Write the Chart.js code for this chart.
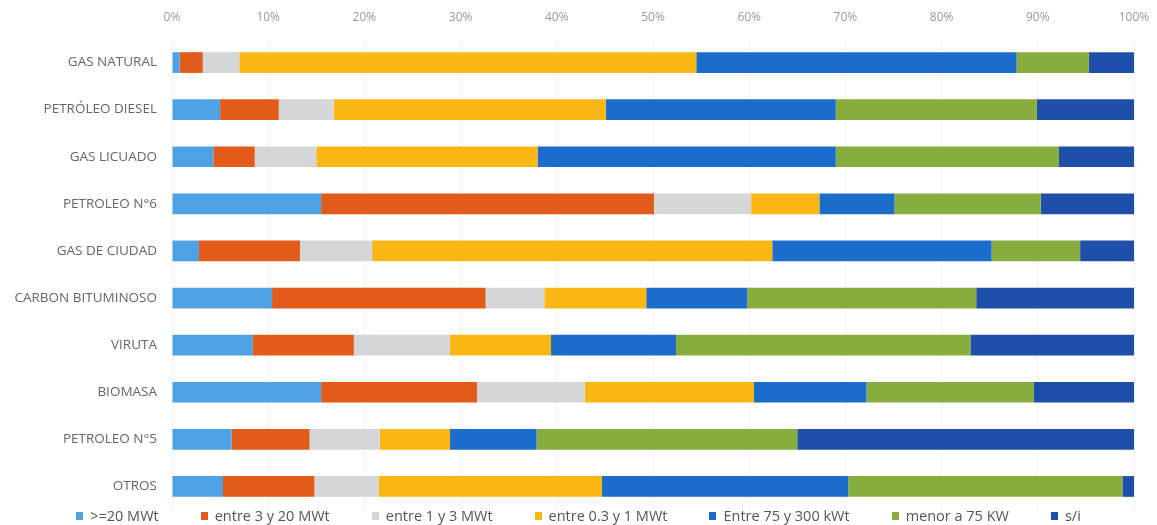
<!DOCTYPE html>
<html>
<head>
<meta charset="utf-8">
<script src="https://cdn.jsdelivr.net/npm/chart.js@4/dist/chart.umd.min.js"></script>
<style>
  html, body { margin: 0; padding: 0; background: #fff; }
  .wrap { position: relative; width: 1157px; height: 525px; }
  #chartBox { position: absolute; left: 0; top: 0; width: 1157px; height: 510px; }
  .legend {
    position: absolute; left: 0; top: 506px; width: 1157px;
    display: flex; justify-content: center; gap: 42px;
    font-family: 'Open Sans', sans-serif; font-size: 14.5px; color: #555;
  }
  .legend span { display: inline-flex; align-items: center; white-space: nowrap; }
  .legend i { display: inline-block; width: 7px; height: 8px; margin-right: 7px; }
</style>
</head>
<body>
<div class="wrap">
  <div id="chartBox"><canvas id="chart"></canvas></div>
  <div class="legend" id="legend"></div>
</div>
<script>
const categories = [
  'GAS NATURAL', 'PETRÓLEO DIESEL', 'GAS LICUADO', 'PETROLEO N°6', 'GAS DE CIUDAD',
  'CARBON BITUMINOSO', 'VIRUTA', 'BIOMASA', 'PETROLEO N°5', 'OTROS'
]
const seriesNames = [
  '>=20 MWt', 'entre 3 y 20 MWt', 'entre 1 y 3 MWt', 'entre 0.3 y 1 MWt',
  'Entre 75 y 300 kWt', 'menor a 75 KW', 's/i'
]
// percentages per category, one array per series
const over20 = [0.8, 5.0, 4.3, 15.5, 2.8, 10.4, 8.4, 15.5, 6.2, 5.3]
const from3to20 = [2.4, 6.1, 4.3, 34.6, 10.5, 22.2, 10.5, 16.2, 8.1, 9.5]
const from1to3 = [3.8, 5.7, 6.4, 10.1, 7.5, 6.1, 10.0, 11.2, 7.3, 6.7]
const from03to1 = [47.5, 28.3, 23.0, 7.1, 41.6, 10.6, 10.5, 17.6, 7.3, 23.2]
const from75to300 = [33.3, 23.9, 31.0, 7.8, 22.8, 10.5, 13.0, 11.7, 9.0, 25.6]
const under75 = [7.5, 20.9, 23.2, 15.2, 9.2, 23.8, 30.6, 17.4, 27.1, 28.5]
const sinInfo = [4.7, 10.1, 7.8, 9.7, 5.6, 16.4, 17.0, 10.4, 35.0, 1.2]
const xTicks = [0, 10, 20, 30, 40, 50, 60, 70, 80, 90, 100]

const colors = ['#4ea1e3', '#e35b1a', '#d4d6da', '#fbb714', '#1c6dcb', '#86ad3e', '#1f4fa8']
const allSeries = [over20, from3to20, from1to3, from03to1, from75to300, under75, sinInfo]

const ctx = document.getElementById('chart').getContext('2d')
const chart = new Chart(ctx, {
  type: 'bar',
  data: {
    labels: categories,
    datasets: allSeries.map((data, i) => ({
      label: seriesNames[i],
      data: data,
      backgroundColor: colors[i],
      borderWidth: 0,
      barPercentage: 0.44,
      categoryPercentage: 1
    }))
  },
  options: {
    indexAxis: 'y',
    responsive: true,
    maintainAspectRatio: false,
    animation: false,
    layout: { padding: { left: 0, right: 23, top: 0, bottom: 0 } },
    scales: {
      x: {
        position: 'top',
        stacked: true,
        min: 0,
        max: 100,
        afterFit: scale => {
          scale.height = 39
          scale.paddingLeft = 0
          scale.paddingRight = 0
        },
        afterBuildTicks: scale => {
          scale.ticks = xTicks.map(v => ({ value: v }))
        },
        grid: { color: 'rgba(0,0,0,0.05)', drawTicks: false },
        border: { display: false },
        ticks: {
          padding: 14,
          color: '#9a9a9a',
          font: { family: 'Open Sans', size: 12 },
          callback: value => value + '%'
        }
      },
      y: {
        stacked: true,
        afterFit: scale => {
          scale.width = 172
          scale.paddingTop = 0
          scale.paddingBottom = 0
        },
        grid: { display: false, drawTicks: false },
        border: { display: false },
        ticks: {
          padding: 15,
          color: '#666',
          font: { family: 'Open Sans', size: 13.5 }
        }
      }
    },
    plugins: {
      legend: { display: false },
      tooltip: { enabled: false }
    }
  }
})

// Legend
const legend = document.getElementById('legend')
seriesNames.forEach((name, i) => {
  const item = document.createElement('span')
  const box = document.createElement('i')
  box.style.background = colors[i]
  item.appendChild(box)
  item.appendChild(document.createTextNode(name))
  legend.appendChild(item)
})
</script>
</body>
</html>
